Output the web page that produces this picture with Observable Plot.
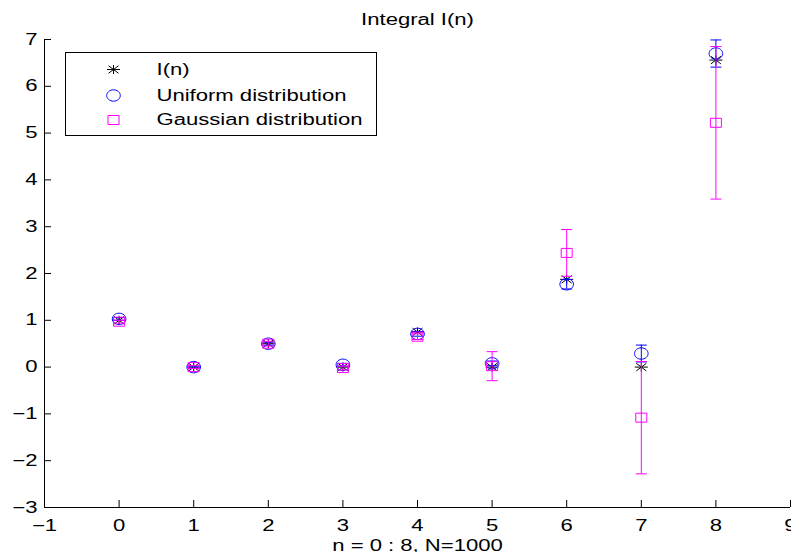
<!DOCTYPE html>
<html><head><meta charset="utf-8">
<script src="https://cdn.jsdelivr.net/npm/d3@7"></script>
<script src="https://cdn.jsdelivr.net/npm/@observablehq/plot@0.6"></script>
<style>html,body{margin:0;padding:0;background:#fff;overflow:hidden;}</style>
</head><body><div id="chart"></div>
<script>
// ---- data ----
const nValues = [0, 1, 2, 3, 4, 5, 6, 7, 8];
const exactI = [1, 0, 0.5, 0, 0.75, 0, 1.875, 0, 6.56];
const uniformMean = [1.03, 0, 0.5, 0.05, 0.71, 0.08, 1.77, 0.29, 6.70];
const uniformErr = [0.03, 0.02, 0.03, 0.03, 0.05, 0.05, 0.1, 0.18, 0.29];
const gaussMean = [0.97, 0, 0.5, -0.02, 0.65, 0.02, 2.44, -1.08, 5.22];
const gaussErr = [0.03, 0.03, 0.05, 0.04, 0.06, 0.31, 0.5, 1.2, 1.63];
const xTicks = [-1, 0, 1, 2, 3, 4, 5, 6, 7, 8, 9];
const yTicks = [-3, -2, -1, 0, 1, 2, 3, 4, 5, 6, 7];
const seriesNames = ["I(n)", "Uniform distribution", "Gaussian distribution"];
const titleText = "Integral I(n)";
const xLabelText = "n = 0 : 8, N=1000";

const rows = nValues.map((n, i) => ({
  n,
  exact: exactI[i],
  u: uniformMean[i], uLo: uniformMean[i] - uniformErr[i], uHi: uniformMean[i] + uniformErr[i],
  g: gaussMean[i], gLo: gaussMean[i] - gaussErr[i], gHi: gaussMean[i] + gaussErr[i]
}));

const BLUE = "#0000ff", MAG = "#ff00ff", BLACK = "#000000";
const FONT = "'Liberation Sans', Arial, Helvetica, sans-serif";
const FS = 16;

// marker shapes (MATLAB-like, slightly wide)
const starSym = {draw(ctx) {
  ctx.moveTo(-6.5, 0); ctx.lineTo(6.5, 0);
  ctx.moveTo(0, -4.5); ctx.lineTo(0, 4.5);
  ctx.moveTo(-5, -3.8); ctx.lineTo(5, 3.8);
  ctx.moveTo(-5, 3.8); ctx.lineTo(5, -3.8);
}};
const ellipseSym = {draw(ctx) {
  const rx = 6.8, ry = 5.7, k = 0.5523;
  ctx.moveTo(rx, 0);
  ctx.bezierCurveTo(rx, ry * k, rx * k, ry, 0, ry);
  ctx.bezierCurveTo(-rx * k, ry, -rx, ry * k, -rx, 0);
  ctx.bezierCurveTo(-rx, -ry * k, -rx * k, -ry, 0, -ry);
  ctx.bezierCurveTo(rx * k, -ry, rx, -ry * k, rx, 0);
  ctx.closePath();
}};
const squareSym = {draw(ctx) { ctx.rect(-5.5, -4.5, 11, 9); }};
const capSym = {draw(ctx) { ctx.moveTo(-5.5, 0); ctx.lineTo(5.5, 0); }};

const legendSymbols = [starSym, ellipseSym, squareSym];
const legendColors = [BLACK, BLUE, MAG];
const legendRowDy = [30, 56, 80.5];

const W = 791, H = 552;
const mL = 44, mR = 1, mT = 39, mB = 45;
const plotW = W - mL - mR, plotH = H - mT - mB;

const legendMarks = [];
seriesNames.forEach((name, i) => {
  legendMarks.push(Plot.dot([0], {frameAnchor: "top-left", dx: 69, dy: legendRowDy[i],
    symbol: legendSymbols[i], stroke: legendColors[i], fill: "none", strokeWidth: 1}));
  legendMarks.push(Plot.text([name], {frameAnchor: "top-left", dx: 112, dy: legendRowDy[i],
    text: d => d, textAnchor: "start", lineAnchor: "middle", fontSize: FS, fill: BLACK}));
});

const chart = Plot.plot({
  width: W, height: H,
  marginLeft: mL, marginRight: mR, marginTop: mT, marginBottom: mB,
  style: {fontFamily: FONT, fontSize: FS + "px", background: "white", color: "black"},
  x: {domain: [-1, 9], label: null},
  y: {domain: [-3, 7], label: null},
  marks: [
    // stars (exact values)
    Plot.dot(rows, {x: "n", y: "exact", symbol: starSym, stroke: BLACK, fill: "none", strokeWidth: 1}),
    // uniform distribution with error bars
    Plot.ruleX(rows, {x: "n", y1: "uLo", y2: "uHi", stroke: BLUE, strokeWidth: 1}),
    Plot.dot(rows, {x: "n", y: "uLo", symbol: capSym, stroke: BLUE, strokeWidth: 1}),
    Plot.dot(rows, {x: "n", y: "uHi", symbol: capSym, stroke: BLUE, strokeWidth: 1}),
    Plot.dot(rows, {x: "n", y: "u", symbol: ellipseSym, stroke: BLUE, fill: "none", strokeWidth: 1}),
    // gaussian distribution with error bars
    Plot.ruleX(rows, {x: "n", y1: "gLo", y2: "gHi", stroke: MAG, strokeWidth: 1}),
    Plot.dot(rows, {x: "n", y: "gLo", symbol: capSym, stroke: MAG, strokeWidth: 1}),
    Plot.dot(rows, {x: "n", y: "gHi", symbol: capSym, stroke: MAG, strokeWidth: 1}),
    Plot.dot(rows, {x: "n", y: "g", symbol: squareSym, stroke: MAG, fill: "none", strokeWidth: 1}),
    // axes spines
    Plot.ruleX([-1], {stroke: BLACK, strokeWidth: 1}),
    Plot.ruleY([-3], {stroke: BLACK, strokeWidth: 1}),
    // inward ticks
    Plot.ruleX(xTicks, {stroke: BLACK, strokeWidth: 1, insetTop: plotH - 7}),
    Plot.ruleY(yTicks, {stroke: BLACK, strokeWidth: 1, insetRight: plotW - 7}),
    // tick labels
    Plot.axisX({ticks: xTicks, tickSize: 0, tickPadding: 12, fontSize: FS, label: null}),
    Plot.axisY({ticks: yTicks, tickSize: 0, tickPadding: 7, fontSize: FS, label: null}),
    // legend
    Plot.frame({insetLeft: 21, insetTop: 13, insetRight: 414, insetBottom: 372, stroke: BLACK, fill: "white", strokeWidth: 1}),
    ...legendMarks,
    // title and x label
    Plot.text([titleText], {frameAnchor: "top", dy: -20, text: d => d, lineAnchor: "middle", fontSize: FS, fill: BLACK}),
    Plot.text([xLabelText], {frameAnchor: "bottom", dy: 38.5, text: d => d, lineAnchor: "middle", fontSize: FS, fill: BLACK})
  ]
});

// the reference text is horizontally wide: stretch each label about its anchor
const S = 1.38;
chart.querySelectorAll("text").forEach(t => {
  const xa = t.getAttribute("x");
  if (xa != null && !isNaN(+xa)) t.setAttribute("x", (+xa) / S);
  const tr = t.getAttribute("transform") || "";
  t.setAttribute("transform", `${tr} scale(${S},1)`);
});

document.getElementById("chart").appendChild(chart);
</script>
</body></html>
